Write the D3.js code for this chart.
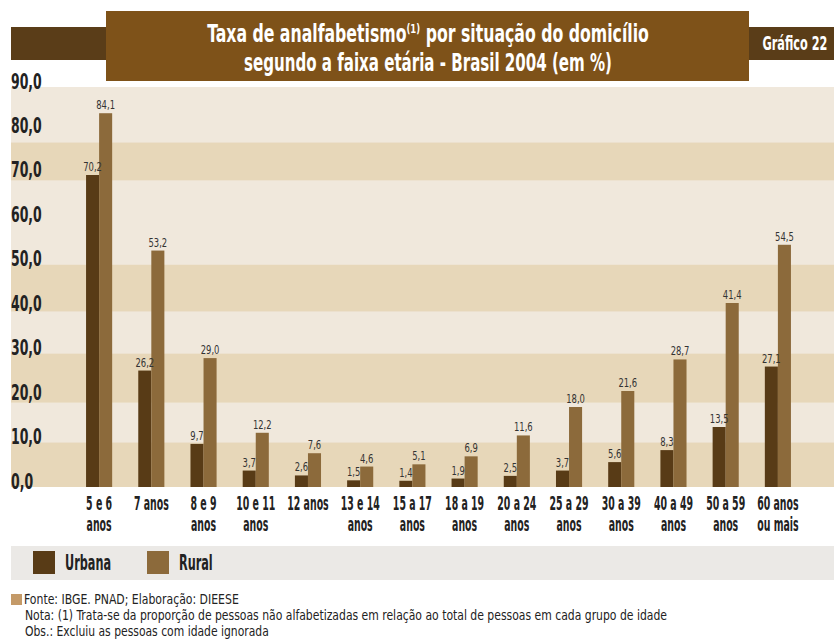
<!DOCTYPE html>
<html>
<head>
<meta charset="utf-8">
<script src="https://cdn.jsdelivr.net/npm/d3@7/dist/d3.min.js"></script>
<style>
  body { margin: 0; background: #fff; }
  svg { display: block; }
  text { font-family: "Liberation Sans Narrow", "Arial Narrow", "DejaVu Sans Condensed", sans-serif; }
</style>
</head>
<body>
<div id="chart"></div>
<script>
// data
const ageGroups = ['5 e 6|anos', '7 anos', '8 e 9|anos', '10 e 11|anos', '12 anos', '13 e 14|anos', '15 a 17|anos',
                   '18 a 19|anos', '20 a 24|anos', '25 a 29|anos', '30 a 39|anos', '40 a 49|anos', '50 a 59|anos', '60 anos|ou mais'];
const urbana = [70.2, 26.2, 9.7, 3.7, 2.6, 1.5, 1.4, 1.9, 2.5, 3.7, 5.6, 8.3, 13.5, 27.1];
const rural = [84.1, 53.2, 29.0, 12.2, 7.6, 4.6, 5.1, 6.9, 11.6, 18.0, 21.6, 28.7, 41.4, 54.5];
const seriesNames = ['Urbana', 'Rural'];
const yTicks = [0, 10, 20, 30, 40, 50, 60, 70, 80, 90];
const darkStripes = [[0, 10], [19, 30], [39.5, 50], [69, 77.5]];
const titleLines = ['Taxa de analfabetismo', ' por situação do domicílio', 'segundo a faixa etária - Brasil 2004 (em %)'];
const footNotes = ['Fonte: IBGE. PNAD; Elaboração: DIEESE',
                   'Nota: (1) Trata-se da proporção de pessoas não alfabetizadas em relação ao total de pessoas em cada grupo de idade',
                   'Obs.: Excluiu as pessoas com idade ignorada'];

const w = 834;
const h = 641;
const colors = { Urbana: '#583b16', Rural: '#8c6a3b' };

const svg = d3.select('#chart').append('svg').attr('width', w).attr('height', h);

// squeezed text helper (reference uses a very condensed face)
// sx = horizontal scale, or fit = target width in px
const label = (parent, x, y, str, size, sx, opts = {}) => {
    const g = parent.append('g');
    const t = g.append('text')
               .attr('font-size', size)
               .attr('font-weight', opts.weight || 'normal')
               .attr('fill', opts.fill || '#222')
               .attr('text-anchor', opts.anchor || 'start')
               .text(str);
    let s = sx;
    if (opts.fit) s = opts.fit / t.node().getComputedTextLength();
    g.attr('transform', `translate(${x},${y}) scale(${s},1)`);
    return t;
};

const xScale = d3.scaleBand()
                 .domain(ageGroups)
                 .range([73, 804])
                 .paddingInner(0.5)
                 .paddingOuter(0.25);

const xSub = d3.scaleBand()
               .domain(seriesNames)
               .range([0, xScale.bandwidth()]);

const yScale = d3.scaleLinear()
                 .domain([0, 90])
                 .range([487, 87]);

// plot background + stripes
svg.append('rect')
   .attr('x', 11).attr('y', yScale(90))
   .attr('width', w - 11).attr('height', yScale(0) - yScale(90))
   .attr('fill', '#f0e8dc');

svg.selectAll('.stripe')
   .data(darkStripes)
   .enter()
   .append('rect')
   .attr('class', 'stripe')
   .attr('x', 11)
   .attr('y', d => yScale(d[1]))
   .attr('width', w - 11)
   .attr('height', d => yScale(d[0]) - yScale(d[1]))
   .attr('fill', '#e7d7b9');

// header
svg.append('rect').attr('x', 11).attr('y', 27).attr('width', w - 11).attr('height', 33).attr('fill', '#5a3d18');
svg.append('rect').attr('x', 106).attr('y', 11).attr('width', 643).attr('height', 70).attr('fill', '#7e5219');

const tg = svg.append('g');
const t1 = tg.append('text')
             .attr('text-anchor', 'middle')
             .attr('font-size', 24).attr('font-weight', 'bold').attr('fill', '#fff');
t1.append('tspan').text(titleLines[0]);
t1.append('tspan').attr('dy', -9).attr('font-size', 13).text('(1)');
t1.append('tspan').attr('dy', 9).text(titleLines[1]);
tg.attr('transform', `translate(428,42) scale(${442 / t1.node().getComputedTextLength()},1)`);

label(svg, 428, 71, titleLines[2], 24, 1, { weight: 'bold', fill: '#fff', anchor: 'middle', fit: 368 });

label(svg, 795, 50, 'Gráfico 22', 19, 1, { weight: 'bold', fill: '#fff', anchor: 'middle', fit: 65 });

// y axis
const yAxis = d3.axisLeft(yScale)
                .tickValues(yTicks)
                .tickSize(0)
                .tickFormat(d => d3.format('.1f')(d).replace('.', ','));

const yAxisG = svg.append('g')
                  .attr('id', 'y-axis')
                  .attr('transform', 'translate(11,0)')
                  .call(yAxis);
yAxisG.select('.domain').remove();
yAxisG.selectAll('text')
      .attr('x', 0)
      .attr('dy', 1)
      .attr('text-anchor', 'start')
      .attr('font-size', 21)
      .attr('font-weight', 'bold')
      .attr('font-family', '"Liberation Sans Narrow", "Arial Narrow", "DejaVu Sans Condensed", sans-serif')
      .attr('fill', '#222')
      .attr('transform', 'scale(0.66,1)');

// bars
const rows = ageGroups.map((g, i) => ({ group: g, values: [
    { key: 'Urbana', value: urbana[i] },
    { key: 'Rural', value: rural[i] }
] }));

const groups = svg.selectAll('.group')
                  .data(rows)
                  .enter()
                  .append('g')
                  .attr('class', 'group')
                  .attr('transform', d => `translate(${xScale(d.group)},0)`);

groups.selectAll('rect')
      .data(d => d.values)
      .enter()
      .append('rect')
      .attr('x', d => xSub(d.key))
      .attr('y', d => yScale(d.value))
      .attr('width', xSub.bandwidth())
      .attr('height', d => yScale(0) - yScale(d.value))
      .attr('fill', d => colors[d.key]);

groups.each(function(d) {
    const g = d3.select(this);
    d.values.forEach(v => {
        label(g, xSub(v.key) + xSub.bandwidth() / 2, yScale(v.value) - 4,
              d3.format('.1f')(v.value).replace('.', ','), 13, 0.72, { anchor: 'middle', fill: '#333' });
    });
});

// x labels
ageGroups.forEach(g => {
    const cx = xScale(g) + xScale.bandwidth() / 2;
    g.split('|').forEach((line, j) => {
        label(svg, cx, 510 + j * 21, line, 19, 0.55, { weight: 'bold', anchor: 'middle' });
    });
});

// legend
svg.append('rect').attr('x', 11).attr('y', 546).attr('width', w - 11).attr('height', 34).attr('fill', '#ebe9e6');
const legendX = [33, 147];
seriesNames.forEach((s, i) => {
    svg.append('rect')
       .attr('x', legendX[i]).attr('y', 551)
       .attr('width', 22).attr('height', 23)
       .attr('fill', colors[s]);
    label(svg, legendX[i] + 32, 570, s, 22, 0.57, { weight: 'bold' });
});

// footer
svg.append('rect').attr('x', 11).attr('y', 594).attr('width', 11).attr('height', 11).attr('fill', '#c49a68');
const footWidths = [215, 643, 244];
footNotes.forEach((line, i) => {
    label(svg, i === 0 ? 24 : 25, 604 + i * 16, line, 14, 1, { fill: '#222', fit: footWidths[i] });
});
</script>
</body>
</html>
